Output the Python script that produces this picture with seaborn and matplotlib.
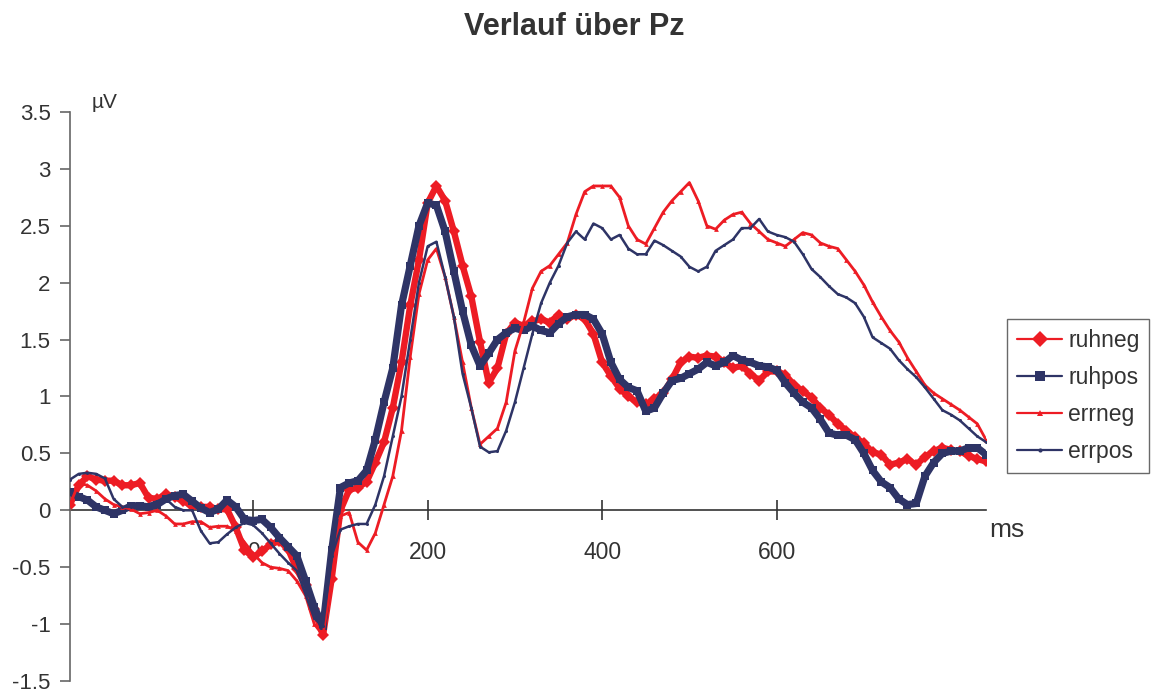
import numpy as np
import pandas as pd
import matplotlib
matplotlib.use("Agg")
import matplotlib.pyplot as plt
from matplotlib.lines import Line2D
import seaborn as sns

# ---------------- data ----------------
time_ms = list(range(-210, 841, 10))

ruhneg = [0.05, 0.22, 0.3, 0.27, 0.26, 0.26, 0.22, 0.22, 0.24, 0.11,
          0.1, 0.14, 0.12, 0.08, 0.04, 0.03, 0.03, 0.01, 0.01, -0.15,
          -0.35, -0.41, -0.36, -0.3, -0.27, -0.34, -0.52, -0.66, -0.87, -1.1,
          -0.6, 0.0, 0.18, 0.2, 0.25, 0.42, 0.6, 0.9, 1.3, 1.8,
          2.2, 2.7, 2.85, 2.72, 2.45, 2.15, 1.88, 1.48, 1.12, 1.25,
          1.55, 1.65, 1.62, 1.66, 1.68, 1.65, 1.72, 1.68, 1.72, 1.68,
          1.55, 1.3, 1.18, 1.07, 1.0, 0.95, 0.93, 0.98, 1.03, 1.15,
          1.3, 1.35, 1.34, 1.36, 1.35, 1.3, 1.25, 1.27, 1.2, 1.14,
          1.22, 1.22, 1.19, 1.1, 1.05, 0.99, 0.9, 0.84, 0.76, 0.7,
          0.64, 0.59, 0.51, 0.49, 0.4, 0.42, 0.45, 0.4, 0.47, 0.52,
          0.55, 0.53, 0.52, 0.48, 0.45, 0.43]

ruhpos = [0.16, 0.12, 0.09, 0.03, 0.0, -0.03, 0.0, 0.04, 0.04, 0.03,
          0.05, 0.1, 0.13, 0.14, 0.08, 0.02, -0.02, 0.01, 0.09, 0.03,
          -0.08, -0.09, -0.08, -0.15, -0.24, -0.32, -0.4, -0.62, -0.85, -1.02,
          -0.35, 0.2, 0.24, 0.26, 0.35, 0.62, 0.95, 1.25, 1.8, 2.15,
          2.5, 2.7, 2.68, 2.45, 2.1, 1.75, 1.45, 1.27, 1.38, 1.5,
          1.56, 1.6, 1.58, 1.62, 1.58, 1.56, 1.64, 1.7, 1.72, 1.72,
          1.68, 1.55, 1.3, 1.15, 1.08, 1.05, 0.87, 0.9, 1.03, 1.14,
          1.16, 1.2, 1.24, 1.3, 1.27, 1.3, 1.36, 1.32, 1.3, 1.27,
          1.26, 1.23, 1.12, 1.03, 0.95, 0.9, 0.8, 0.68, 0.66, 0.66,
          0.62, 0.5, 0.35, 0.25, 0.2, 0.1, 0.05, 0.06, 0.3, 0.42,
          0.5, 0.52, 0.52, 0.55, 0.55, 0.49]

errneg = [0.05, 0.24, 0.22, 0.17, 0.1, 0.05, 0.03, 0.01, -0.03, -0.02,
          0.0, -0.05, -0.12, -0.12, -0.1, -0.1, -0.15, -0.14, -0.14, -0.18,
          -0.28, -0.38, -0.46, -0.5, -0.51, -0.53, -0.62, -0.75, -1.0, -1.1,
          -0.6, -0.05, -0.02, -0.28, -0.35, -0.2, 0.05, 0.3, 0.7, 1.35,
          1.9, 2.2, 2.3, 2.05, 1.7, 1.3, 0.9, 0.58, 0.65, 0.72,
          0.95, 1.4, 1.65, 1.95, 2.1, 2.15, 2.25, 2.35, 2.6, 2.8,
          2.85, 2.85, 2.85, 2.75, 2.5, 2.38, 2.34, 2.48, 2.62, 2.72,
          2.8, 2.88, 2.72, 2.5, 2.47, 2.55, 2.6, 2.62, 2.52, 2.45,
          2.38, 2.35, 2.32, 2.38, 2.44, 2.42, 2.35, 2.32, 2.3, 2.2,
          2.1, 1.98, 1.83, 1.7, 1.58, 1.48, 1.34, 1.22, 1.1, 1.03,
          0.98, 0.93, 0.88, 0.82, 0.76, 0.62]

errpos = [0.27, 0.32, 0.33, 0.32, 0.28, 0.1, 0.03, 0.03, 0.04, 0.05,
          0.08, 0.1, 0.03, 0.0, 0.0, -0.18, -0.29, -0.28, -0.21, -0.15,
          -0.11, -0.13, -0.2, -0.29, -0.38, -0.46, -0.53, -0.74, -0.95, -1.02,
          -0.4, -0.17, -0.14, -0.12, -0.12, 0.05, 0.3, 0.65, 1.0, 1.5,
          2.0, 2.32, 2.36, 2.05, 1.7, 1.2, 0.9, 0.56, 0.51, 0.52,
          0.7, 0.95, 1.25, 1.55, 1.82, 2.0, 2.15, 2.35, 2.45, 2.38,
          2.52, 2.48, 2.38, 2.42, 2.3, 2.25, 2.25, 2.37, 2.33, 2.28,
          2.23, 2.14, 2.1, 2.14, 2.28, 2.33, 2.38, 2.48, 2.48, 2.56,
          2.45, 2.42, 2.4, 2.36, 2.25, 2.12, 2.05, 1.97, 1.9, 1.87,
          1.82, 1.7, 1.52, 1.47, 1.42, 1.32, 1.24, 1.17, 1.08, 0.98,
          0.88, 0.84, 0.79, 0.72, 0.65, 0.6]

series_names = ["ruhneg", "ruhpos", "errneg", "errpos"]
x_ticks = [0, 200, 400, 600]
y_ticks = [-1.5, -1, -0.5, 0, 0.5, 1, 1.5, 2, 2.5, 3, 3.5]
y_tick_labels = ["-1.5", "-1", "-0.5", "0", "0.5", "1", "1.5", "2", "2.5", "3", "3.5"]

# ---------------- style ----------------
sns.set_theme(style="white")
plt.rcParams["font.family"] = ["Liberation Sans", "DejaVu Sans"]
plt.rcParams["axes.unicode_minus"] = False

RED = "#ED1C24"
NAVY = "#2E3466"
TXT = "#333333"

styles = {
    "ruhneg": dict(color=RED, lw=4.6, marker="D", ms=6.0, z=2),
    "ruhpos": dict(color=NAVY, lw=5.2, marker="s", ms=6.0, z=3),
    "errneg": dict(color=RED, lw=2.0, marker="^", ms=3.4, z=4),
    "errpos": dict(color=NAVY, lw=1.8, marker="o", ms=2.2, z=5),
}

df = pd.DataFrame({"time": time_ms, "ruhneg": ruhneg, "ruhpos": ruhpos,
                   "errneg": errneg, "errpos": errpos})

fig = plt.figure(figsize=(11.52, 6.94), dpi=100)
ax = fig.add_axes([70 / 1152, 1 - 681 / 694, (986 - 70) / 1152, (681 - 112) / 694])

for name in series_names:
    st = styles[name]
    sns.lineplot(data=df, x="time", y=name, ax=ax, color=st["color"],
                 linewidth=st["lw"], marker=st["marker"], markersize=st["ms"],
                 markeredgewidth=0, zorder=st["z"], legend=False)

ax.set_xlim(-210, 840)
ax.set_ylim(-1.5, 3.5)
ax.set_xlabel("")
ax.set_ylabel("")

# axes appearance (Excel-like)
for s in ["top", "right"]:
    ax.spines[s].set_visible(False)
ax.spines["left"].set_color("#666666")
ax.spines["left"].set_linewidth(1.2)
ax.spines["bottom"].set_position(("data", 0))
ax.spines["bottom"].set_color("#333333")
ax.spines["bottom"].set_linewidth(1.2)
ax.spines["bottom"].set_zorder(1)

ax.set_yticks(y_ticks)
ax.set_yticklabels(y_tick_labels)
ax.set_xticks(x_ticks)
ax.set_xticklabels([str(v) for v in x_ticks])
ax.tick_params(axis="y", direction="out", length=7, width=1.2, color="#666666",
               labelsize=16, labelcolor=TXT, pad=7, left=True)
ax.tick_params(axis="x", direction="inout", length=14, width=1.2, color="#333333",
               labelsize=16.5, labelcolor=TXT, pad=15, bottom=True)
ax.grid(False)

# unit labels
fig.text(105 / 1152, 1 - 102 / 694, "µV", fontsize=15, color=TXT,
         ha="center", va="center")
fig.text(1007 / 1152, 1 - 530 / 694, "ms", fontsize=19, color=TXT,
         ha="center", va="center")

# title
fig.text(574 / 1152, 1 - 27 / 694, "Verlauf über Pz", fontsize=22,
         fontweight="bold", color=TXT, ha="center", va="center")

# legend
legend_ms = {"ruhneg": 8, "ruhpos": 7.5, "errneg": 4.5, "errpos": 3}
handles = [Line2D([0], [0], color=styles[n]["color"], lw=1.6,
                  marker=styles[n]["marker"], markersize=legend_ms[n],
                  markeredgewidth=0) for n in series_names]
leg = fig.legend(handles, series_names, loc="center left",
                 bbox_to_anchor=(1007 / 1152, 1 - 396 / 694),
                 fontsize=16.5, frameon=True, fancybox=False,
                 handlelength=2.0, handletextpad=0.26, labelspacing=0.62,
                 borderpad=0.42, borderaxespad=0)
leg.get_frame().set_edgecolor("#444444")
leg.get_frame().set_linewidth(1.0)
for t in leg.get_texts():
    t.set_color(TXT)

fig.savefig("out.png", dpi=100)
